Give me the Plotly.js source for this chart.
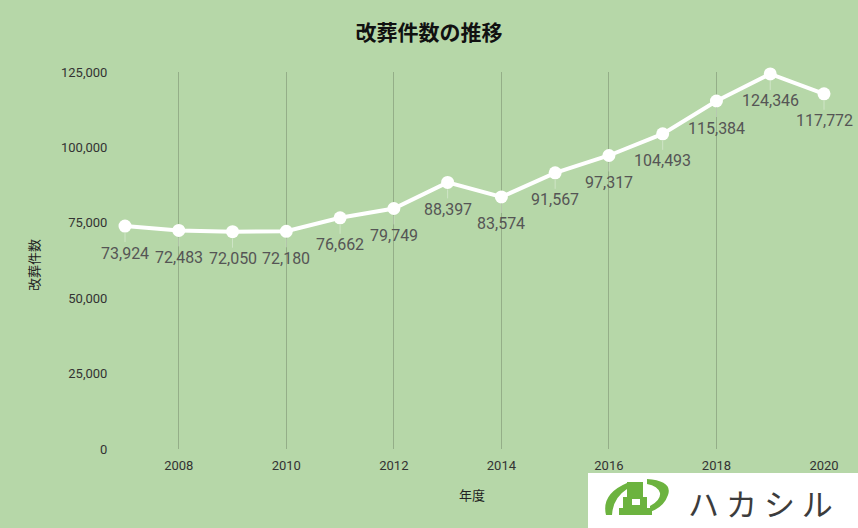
<!DOCTYPE html>
<html>
<head>
<meta charset="utf-8">
<script src="https://cdn.plot.ly/plotly-3.0.1.min.js"></script>
<style>html,body{margin:0;padding:0;background:#b6d7a8;}#chart{width:858px;height:528px;}</style>
</head>
<body>
<div id="chart"></div>
<script>
const years = [2007, 2008, 2009, 2010, 2011, 2012, 2013, 2014, 2015, 2016, 2017, 2018, 2019, 2020];
const counts = [73924, 72483, 72050, 72180, 76662, 79749, 88397, 83574, 91567, 97317, 104493, 115384, 124346, 117772];
const yTickVals = [0, 25000, 50000, 75000, 100000, 125000];
const yTickText = ['0', '25,000', '50,000', '75,000', '100,000', '125,000'];
const xTickVals = [2008, 2010, 2012, 2014, 2016, 2018, 2020];
const chartTitle = '改葬件数の推移';
const yTitle = '改葬件数';
const xTitle = '年度';
const logoText = 'ハ カ シ ル';

const W = 858, H = 528, L = 125, R = 824, T = 72, B = 449;
const px = x => (x - L) / (R - L);
const py = y => (B - y) / (B - T);
function path(pts) {
  return pts.map(p => {
    if (typeof p === 'string') return p;
    return px(p[0]).toFixed(5) + ',' + py(p[1]).toFixed(5);
  }).join(' ');
}

const fmt = v => v.toLocaleString('en-US');

const labelAnn = years.map((yr, i) => ({
  x: yr, y: counts[i], xref: 'x', yref: 'y',
  text: fmt(counts[i]), showarrow: true, arrowhead: 0, arrowwidth: 1,
  arrowcolor: 'rgba(255,255,255,0.35)', ax: 0, ay: 27, standoff: 7,
  font: {family: 'Roboto, Arial, sans-serif', size: 16, color: '#555555'}
}));

const green = '#6cb33f';
const rect = (x0, y0, x1, y1, c) => ({type: 'rect', xref: 'paper', yref: 'paper', layer: 'above',
  fillcolor: c, line: {width: 0}, x0: px(x0), x1: px(x1), y0: py(y1), y1: py(y0)});
const shapes = [
  rect(588, 473, 870, 540, '#ffffff'),
  {type: 'path', xref: 'paper', yref: 'paper', layer: 'above', fillcolor: green, line: {width: 0},
   path: 'M ' + path([[606,515], 'Q', [601,494], [627,483], 'L', [627,489], 'Q', [613,498], [612,515]]) + ' Z'},
  {type: 'path', xref: 'paper', yref: 'paper', layer: 'above', fillcolor: green, line: {width: 0},
   path: 'M ' + path([[647,479], 'Q', [673,481], [668,495], 'Q', [664,507], [650,512], 'L', [650,506], 'Q', [661,500], [660,493], 'Q', [658,486], [647,484]]) + ' Z'},
  rect(627, 482, 643, 498, green),
  rect(623, 497, 647, 509, green),
  rect(619, 508, 652, 515, green),
  rect(632, 499, 640, 505, '#ffffff')
];

const annotations = labelAnn.concat([
  {xref: 'paper', yref: 'paper', x: px(33), y: py(265), xanchor: 'center', yanchor: 'middle',
   text: yTitle, textangle: -90, showarrow: false,
   font: {family: '"Noto Sans CJK JP", sans-serif', size: 13, color: '#222222'}},
  {xref: 'paper', yref: 'paper', x: px(472), y: py(494), xanchor: 'center', yanchor: 'middle',
   text: xTitle, showarrow: false,
   font: {family: '"Noto Sans CJK JP", sans-serif', size: 13, color: '#222222'}},
  {xref: 'paper', yref: 'paper', x: px(760), y: py(502), xanchor: 'center', yanchor: 'middle',
   text: logoText, showarrow: false,
   font: {family: '"Noto Sans CJK JP", sans-serif', size: 31, color: '#3c3c3c'}}
]);

const trace = {
  x: years, y: counts, type: 'scatter', mode: 'lines+markers',
  line: {color: '#ffffff', width: 4},
  marker: {color: '#ffffff', size: 13},
  cliponaxis: false, hoverinfo: 'none'
};

const layout = {
  width: W, height: H,
  paper_bgcolor: '#b6d7a8', plot_bgcolor: '#b6d7a8',
  margin: {l: L, r: W - R, t: T, b: H - B},
  title: {text: chartTitle, x: 0.5, xref: 'container', xanchor: 'center', y: 1 - 33 / H, yref: 'container', yanchor: 'middle',
          font: {family: '"Noto Sans CJK JP", sans-serif', size: 21, weight: 'bold', color: '#111111'}},
  xaxis: {range: [2007, 2020], tickvals: xTickVals, ticktext: xTickVals.map(String),
          showgrid: true, gridcolor: '#94ae88', gridwidth: 1, zeroline: false, showline: false,
          ticks: 'outside', ticklen: 4, tickcolor: 'rgba(0,0,0,0)',
          tickfont: {family: 'Roboto, Arial, sans-serif', size: 13, color: '#333333'}},
  yaxis: {range: [0, 125000], tickvals: yTickVals, ticktext: yTickText,
          showgrid: false, zeroline: false, showline: false,
          ticks: 'outside', ticklen: 14, tickcolor: 'rgba(0,0,0,0)',
          tickfont: {family: 'Roboto, Arial, sans-serif', size: 13, color: '#333333'}},
  showlegend: false,
  annotations: annotations,
  shapes: shapes
};

Plotly.newPlot('chart', [trace], layout, {displayModeBar: false, staticPlot: true});
</script>
</body>
</html>
